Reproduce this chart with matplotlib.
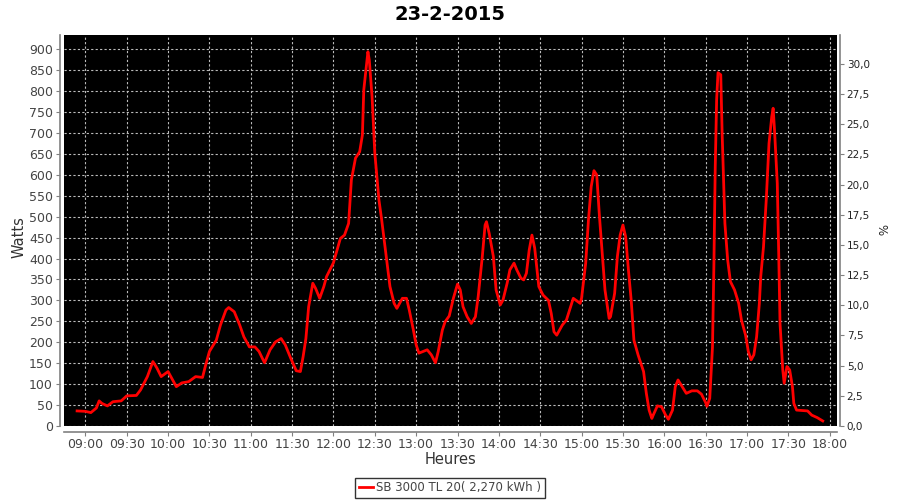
import matplotlib
matplotlib.use("Agg")
import matplotlib.pyplot as plt
import matplotlib.dates as mdates
from matplotlib.ticker import MultipleLocator, FuncFormatter
import pandas as pd

title = "23-2-2015"
series_label = "SB 3000 TL 20( 2,270 kWh )"
times = ["08:54","09:00","09:04","09:08","09:10","09:12","09:16","09:20","09:26","09:30",
         "09:37","09:40","09:45","09:49","09:52","09:55","10:00","10:02","10:06","10:10",
         "10:15","10:20","10:25","10:27","10:30","10:35","10:38","10:42","10:44","10:48",
         "10:52","10:55","10:59","11:03","11:06","11:10","11:14","11:18","11:22","11:25",
         "11:29","11:33","11:36","11:38","11:40","11:42","11:45","11:47","11:50","11:53",
         "11:55","11:57","12:00","12:05","12:08","12:11","12:13","12:16","12:19","12:21",
         "12:22","12:25","12:26","12:28","12:30","12:33","12:35","12:38","12:41","12:44",
         "12:46","12:50","12:53","12:55","12:58","13:00","13:02","13:05","13:08","13:11",
         "13:14","13:16","13:19","13:21","13:24","13:27","13:30","13:32","13:34","13:37",
         "13:40","13:43","13:45","13:48","13:50","13:51","13:53","13:56","13:58","14:01",
         "14:03","14:06","14:08","14:11","14:13","14:16","14:18","14:20","14:22","14:24",
         "14:26","14:29","14:32","14:36","14:38","14:40","14:42","14:46","14:49","14:54",
         "14:59","15:00","15:03","15:05","15:07","15:09","15:11","15:13","15:15","15:17",
         "15:20","15:21","15:24","15:26","15:28","15:30","15:32","15:34","15:36","15:38",
         "15:41","15:45","15:47","15:49","15:51","15:52","15:55","15:58","16:01","16:03",
         "16:06","16:08","16:10","16:13","16:16","16:20","16:24","16:27","16:30","16:31",
         "16:33","16:35","16:36","16:37","16:38","16:39","16:41","16:42","16:44","16:46",
         "16:48","16:51","16:54","16:56","16:59","17:01","17:03","17:05","17:07","17:09",
         "17:10","17:12","17:14","17:16","17:18","17:19","17:20","17:22","17:23","17:24",
         "17:26","17:27","17:29","17:31","17:33","17:34","17:36","17:40","17:44","17:47",
         "17:51","17:55"]
watts = [36,35,32,43,60,54,48,58,60,72,
         73,86,118,154,138,118,130,118,94,103,
         106,118,116,142,178,205,241,277,283,273,
         241,213,189,189,178,151,182,201,209,194,
         162,132,130,166,209,285,341,329,305,333,
         357,370,390,448,456,484,588,640,655,695,
         803,894,874,787,652,540,492,413,333,293,
         281,305,305,277,229,194,174,178,182,170,
         151,178,229,249,263,305,339,325,285,261,
         245,261,309,405,480,488,460,405,325,289,
         301,341,373,389,373,353,349,365,420,456,
         425,333,313,300,269,225,217,241,253,305,
         293,305,389,492,572,610,600,500,413,325,
         257,261,317,405,456,480,452,373,301,205,
         170,130,78,38,18,26,48,46,26,16,
         38,94,110,94,78,84,84,76,56,47,
         66,189,381,620,779,844,839,699,484,397,
         345,325,293,253,217,178,158,170,213,293,
         357,428,540,675,739,759,707,580,420,245,
         134,102,142,134,94,54,38,37,36,26,
         20,12]

day = "2015-02-23 "
t = pd.to_datetime([day + s for s in times])

fig = plt.figure(figsize=(9, 5), dpi=100)
ax = fig.add_axes([64/900, 74/500, (837-64)/900, (426-35)/500])
ax.set_facecolor("black")
ax.plot(t, watts, color="#ff0000", lw=2.0, solid_joinstyle="round")

ax.set_xlim(pd.Timestamp(day + "08:44:30"), pd.Timestamp(day + "18:05:20"))
ax.set_ylim(0, 934)
ax.yaxis.set_major_locator(MultipleLocator(50))
ax.xaxis.set_major_locator(mdates.MinuteLocator(byminute=[0, 30]))
ax.xaxis.set_major_formatter(mdates.DateFormatter("%H:%M"))
ax.grid(True, color="#bcbcbc", linestyle=(0, (2, 2)), linewidth=0.8)

gray = "#808080"
txt = "#444444"
ax.spines["top"].set_visible(False)
ax.spines["left"].set_position(("outward", 3))
ax.spines["bottom"].set_position(("outward", 4))
ax.spines["right"].set_visible(False)
for s in ["left", "bottom"]:
    ax.spines[s].set_color(gray)
    ax.spines[s].set_linewidth(1.2)
ax.tick_params(axis="both", colors=gray, labelcolor=txt, length=3, width=0.8, labelsize=9, pad=2)

ax2 = ax.twinx()
ax2.set_ylim(0, 32.4)
ax2.yaxis.set_major_locator(MultipleLocator(2.5))
ax2.yaxis.set_major_formatter(FuncFormatter(lambda v, p: f"{v:.1f}".replace(".", ",")))
for s in ["top", "left", "bottom"]:
    ax2.spines[s].set_visible(False)
ax2.spines["right"].set_color(gray)
ax2.spines["right"].set_linewidth(1.2)
ax2.spines["right"].set_position(("outward", 2))
ax2.tick_params(axis="y", colors=gray, labelcolor="#222222", length=3, width=0.8, labelsize=7.5, pad=2)

fig.text(0.5, 0.972, title, ha="center", va="center", fontsize=14, fontweight="bold")
fig.text(19/900, 1 - 237/500, "Watts", rotation=90, ha="center", va="center", fontsize=10.5, color="#333333")
fig.text(450/900, 1 - 460/500, "Heures", ha="center", va="center", fontsize=10.5, color="#333333")
fig.text(881/900, 1 - 230/500, "%", rotation=-90, ha="center", va="center", fontsize=8.5, color="#222222")

h, = ax.plot([], [], color="#ff0000", lw=2.0, label=series_label)
leg = fig.legend(handles=[h], loc="center", bbox_to_anchor=(450/900, 1 - 488/500),
                 frameon=True, fancybox=False, edgecolor="black", fontsize=8.5,
                 handlelength=1.2, handletextpad=0.3, borderpad=0.3, borderaxespad=0)
leg.get_frame().set_linewidth(1.0)
for tx in leg.get_texts():
    tx.set_color("#444444")

fig.savefig("out.png", dpi=100)
